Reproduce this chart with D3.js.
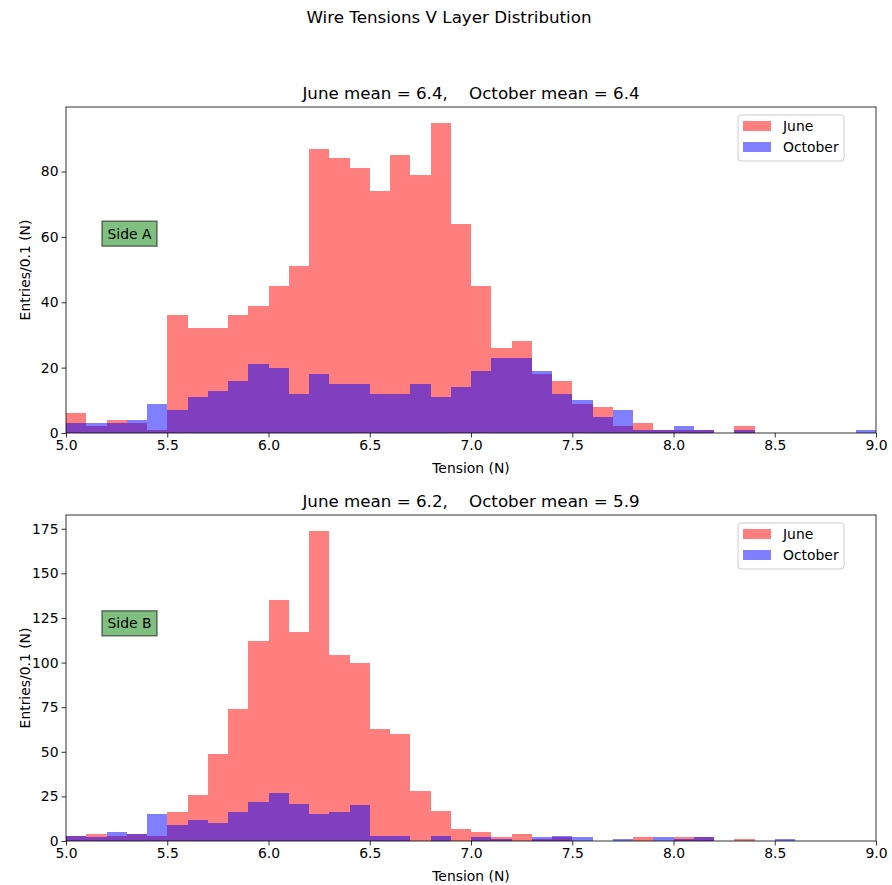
<!DOCTYPE html>
<html>
<head>
<meta charset="utf-8">
<script src="https://cdn.jsdelivr.net/npm/d3@7.9.0/dist/d3.min.js"></script>
<style>
  body { margin: 0; background: #fff; }
  svg { font-family: 'DejaVu Sans', sans-serif; }
</style>
</head>
<body>
<svg id="chart" width="892" height="885"></svg>
<script>
// counts per 0.1 N bin, 5.0 .. 9.0
const juneA = [6, 2, 4, 3, 1, 36, 32, 32, 36, 39, 45, 51, 87, 84, 81, 74, 85, 79, 95, 64,
  45, 26, 28, 18, 16, 9, 8, 2, 3, 1, 1, 1, 0, 2, 0, 0, 0, 0, 0, 0];
const octA = [3, 3, 3, 4, 9, 7, 11, 13, 16, 21, 20, 12, 18, 15, 15, 12, 12, 15, 11, 14,
  19, 23, 23, 19, 12, 10, 5, 7, 1, 1, 2, 1, 0, 1, 0, 0, 0, 0, 0, 1];
const juneB = [3, 4, 3, 4, 3, 16, 26, 49, 74, 112, 135, 117, 174, 104, 100, 63, 60, 28, 17, 7,
  5, 2, 4, 1, 2, 0, 0, 0, 2, 0, 2, 2, 0, 1, 0, 0, 0, 0, 0, 0];
const octB = [3, 2, 5, 4, 15, 9, 12, 10, 16, 22, 27, 21, 15, 16, 20, 3, 3, 0, 3, 0,
  2, 1, 0, 2, 3, 2, 0, 1, 0, 2, 1, 2, 0, 0, 0, 1, 0, 0, 0, 0];

const xTicks = [5.0, 5.5, 6.0, 6.5, 7.0, 7.5, 8.0, 8.5, 9.0];
const yTicksA = [0, 20, 40, 60, 80];
const yTicksB = [0, 25, 50, 75, 100, 125, 150, 175];
const seriesNames = ['June', 'October'];
const seriesColors = ['red', 'blue'];

const binWidth = 0.1;
const svg = d3.select('#chart');

svg.append('text')
  .attr('x', 449).attr('y', 23)
  .attr('text-anchor', 'middle')
  .attr('font-size', 16.7)
  .text('Wire Tensions V Layer Distribution');

function drawPanel({ top, june, oct, yTicks, title, side, sideAt }) {
  const left = 66, right = 876, height = 326;
  const bottom = top + height;
  const x = d3.scaleLinear().domain([5, 9]).range([left, right]);
  const yMax = d3.max([...june, ...oct]) * 1.05;
  const y = d3.scaleLinear().domain([0, yMax]).range([bottom, top]);

  const g = svg.append('g');

  [june, oct].forEach((counts, s) => {
    g.append('g')
      .selectAll('rect')
      .data(counts)
      .join('rect')
      .attr('x', (_d, i) => x(5 + i * binWidth))
      .attr('width', (_d, i) => x(5 + (i + 1) * binWidth) - x(5 + i * binWidth))
      .attr('y', (d) => y(d))
      .attr('height', (d) => bottom - y(d))
      .attr('fill', seriesColors[s])
      .attr('fill-opacity', 0.5)
      .attr('shape-rendering', 'crispEdges');
  });

  const xAxis = g.append('g')
    .attr('transform', `translate(0,${bottom})`)
    .call(d3.axisBottom(x).tickValues(xTicks).tickFormat(d3.format('.1f')).tickSizeOuter(0).tickSize(4.5).tickPadding(3));
  const yAxis = g.append('g')
    .attr('transform', `translate(${left},0)`)
    .call(d3.axisLeft(y).tickValues(yTicks).tickSizeOuter(0).tickSize(4.5).tickPadding(3));

  [xAxis, yAxis].forEach((ax) => {
    ax.select('.domain').remove();
    ax.selectAll('text').attr('font-size', 13.9).attr('fill', '#000').attr('font-family', 'DejaVu Sans');
    ax.selectAll('line').attr('stroke', '#000').attr('stroke-width', 0.8);
  });

  g.append('rect')
    .attr('x', left).attr('y', top)
    .attr('width', right - left).attr('height', height)
    .attr('fill', 'none')
    .attr('stroke', '#000')
    .attr('stroke-width', 0.8);

  g.append('text')
    .attr('x', (left + right) / 2).attr('y', top - 8)
    .attr('text-anchor', 'middle')
    .attr('font-size', 16.7)
    .attr('xml:space', 'preserve')
    .text(title);

  g.append('text')
    .attr('x', (left + right) / 2).attr('y', bottom + 40)
    .attr('text-anchor', 'middle')
    .attr('font-size', 13.9)
    .text('Tension (N)');

  g.append('text')
    .attr('transform', `translate(30,${top + height / 2}) rotate(-90)`)
    .attr('text-anchor', 'middle')
    .attr('font-size', 13.9)
    .text('Entries/0.1 (N)');

  // side label box, centred on a data height
  const sideY = y(sideAt);
  g.append('rect')
    .attr('x', 102).attr('y', sideY - 12.5)
    .attr('width', 55).attr('height', 25)
    .attr('fill', 'green').attr('fill-opacity', 0.5)
    .attr('stroke', '#000').attr('stroke-opacity', 0.5).attr('stroke-width', 1.5);
  g.append('text')
    .attr('x', 129.5).attr('y', sideY + 5)
    .attr('text-anchor', 'middle')
    .attr('font-size', 13.9)
    .text(side);

  // legend
  const lg = g.append('g').attr('transform', `translate(738,${top + 8})`);
  lg.append('rect')
    .attr('width', 106).attr('height', 46).attr('rx', 3)
    .attr('fill', '#fff').attr('fill-opacity', 0.8)
    .attr('stroke', '#ccc').attr('stroke-width', 1);
  seriesNames.forEach((name, i) => {
    lg.append('rect')
      .attr('x', 5).attr('y', 6 + i * 21)
      .attr('width', 28).attr('height', 10)
      .attr('fill', seriesColors[i]).attr('fill-opacity', 0.5);
    lg.append('text')
      .attr('x', 45).attr('y', 16 + i * 21)
      .attr('font-size', 13.9)
      .text(name);
  });
}

drawPanel({ top: 107, june: juneA, oct: octA, yTicks: yTicksA,
  title: 'June mean = 6.4,    October mean = 6.4', side: 'Side A', sideAt: 61 });
drawPanel({ top: 515, june: juneB, oct: octB, yTicks: yTicksB,
  title: 'June mean = 6.2,    October mean = 5.9', side: 'Side B', sideAt: 122 });
</script>
</body>
</html>
